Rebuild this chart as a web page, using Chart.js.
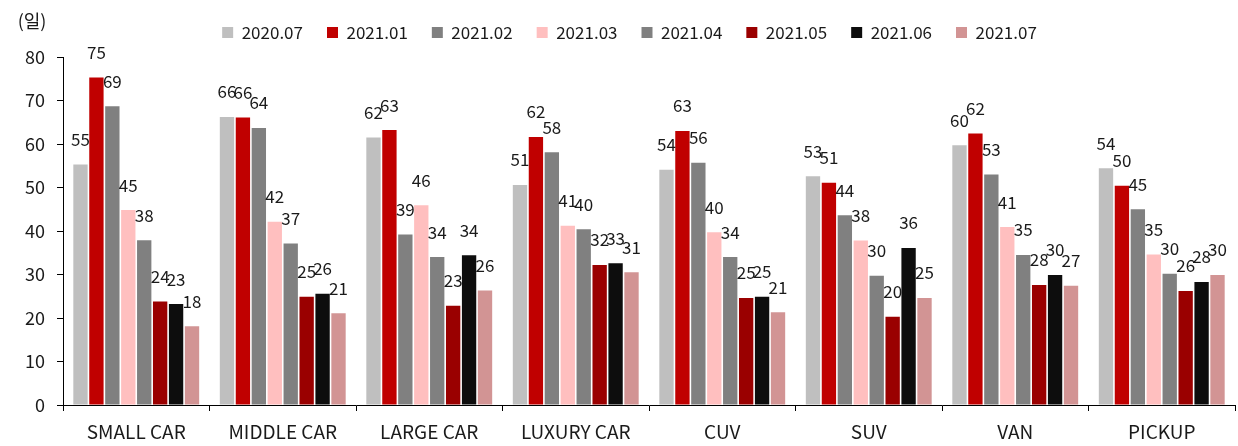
<!DOCTYPE html>
<html>
<head>
<meta charset="utf-8">
<script src="https://cdn.jsdelivr.net/npm/chart.js@4/dist/chart.umd.min.js"></script>
<style>
  html, body { margin: 0; padding: 0; background: #fff; }
  #wrap { width: 1238px; height: 446px; }
</style>
</head>
<body>
<div id="wrap"><canvas id="c" width="1238" height="446"></canvas></div>
<script>
const categories = ['SMALL CAR', 'MIDDLE CAR', 'LARGE CAR', 'LUXURY CAR', 'CUV', 'SUV', 'VAN', 'PICKUP'];
const seriesNames = ['2020.07', '2021.01', '2021.02', '2021.03', '2021.04', '2021.05', '2021.06', '2021.07'];
const s2020_07 = [55.3, 66.2, 61.5, 50.6, 54.1, 52.6, 59.7, 54.4];
const s2021_01 = [75.3, 66.1, 63.2, 61.6, 63.0, 51.1, 62.4, 50.4];
const s2021_02 = [68.7, 63.7, 39.2, 58.1, 55.7, 43.6, 53.0, 45.0];
const s2021_03 = [44.8, 42.1, 45.9, 41.2, 39.7, 37.8, 40.9, 34.6];
const s2021_04 = [37.9, 37.1, 34.0, 40.4, 34.0, 29.7, 34.5, 30.2];
const s2021_05 = [23.8, 24.9, 22.8, 32.2, 24.6, 20.3, 27.6, 26.2];
const s2021_06 = [23.2, 25.6, 34.4, 32.6, 24.9, 36.1, 29.9, 28.3];
const s2021_07 = [18.1, 21.1, 26.3, 30.5, 21.3, 24.6, 27.4, 29.9];
const yTicks = [0, 10, 20, 30, 40, 50, 60, 70, 80];
const unitLabel = '(일)';

const seriesValues = [s2020_07, s2021_01, s2021_02, s2021_03, s2021_04, s2021_05, s2021_06, s2021_07];
const seriesColors = ['#bfbfbf', '#c00000', '#808080', '#ffbfbf', '#808080', '#9a0000', '#0d0d0d', '#d29494'];

const FONT = "'Noto Sans CJK KR', 'Open Sans', sans-serif";
const FS = 17;
const TXT = '#1a1a1a';

const dataLabels = {
  id: 'dataLabels',
  afterDatasetsDraw(chart) {
    const ctx = chart.ctx;
    ctx.save();
    ctx.font = FS + 'px ' + FONT;
    ctx.fillStyle = TXT;
    ctx.textAlign = 'center';
    ctx.textBaseline = 'middle';
    chart.data.datasets.forEach((ds, i) => {
      const meta = chart.getDatasetMeta(i);
      meta.data.forEach((el, j) => {
        ctx.fillText(String(Math.round(ds.data[j])), el.x, el.y - 25);
      });
    });
    ctx.restore();
  }
};

const unitPlugin = {
  id: 'unitPlugin',
  afterDraw(chart) {
    const ctx = chart.ctx;
    ctx.save();
    ctx.font = '18px ' + FONT;
    ctx.fillStyle = TXT;
    ctx.textAlign = 'center';
    ctx.textBaseline = 'middle';
    ctx.fillText(unitLabel, chart.chartArea.left - 31, 21);
    ctx.restore();
  }
};

const legendHeight = {
  id: 'legendHeight',
  beforeUpdate(chart) {
    if (chart.legend && !chart.legend._patched) {
      const orig = chart.legend.fit;
      chart.legend.fit = function () { orig.call(this); this.height = 57; };
      chart.legend._patched = true;
    }
  }
};

new Chart(document.getElementById('c'), {
  type: 'bar',
  data: {
    labels: categories,
    datasets: seriesNames.map((n, i) => ({
      label: n,
      data: seriesValues[i],
      backgroundColor: seriesColors[i],
      borderWidth: 0,
      categoryPercentage: 0.87,
      barPercentage: 0.9
    }))
  },
  options: {
    responsive: false,
    animation: false,
    devicePixelRatio: 1,
    layout: { padding: { left: 24, right: 3, top: 0, bottom: 0 } },
    plugins: {
      legend: {
        position: 'top',
        labels: {
          font: { family: FONT, size: FS },
          color: TXT,
          boxWidth: 11,
          boxHeight: 11,
          padding: 24
        }
      },
      tooltip: { enabled: false }
    },
    scales: {
      x: {
        afterFit(s) { s.height = 41; },
        grid: { display: true, drawOnChartArea: false, drawTicks: true, tickLength: 6, color: '#000', offset: true },
        border: { display: true, color: '#000', width: 1 },
        ticks: { font: { family: FONT, size: 19 }, color: TXT, padding: 9, maxRotation: 0 }
      },
      y: {
        min: 0,
        max: 80,
        afterFit(s) { s.width = 39; },
        afterBuildTicks(s) { s.ticks = yTicks.map(v => ({ value: v })); },
        grid: { display: true, drawOnChartArea: false, drawTicks: true, tickLength: 6, color: '#000' },
        border: { display: true, color: '#000', width: 1 },
        ticks: { font: { family: FONT, size: 18 }, color: TXT, padding: 12 }
      }
    }
  },
  plugins: [dataLabels, unitPlugin, legendHeight]
});
</script>
</body>
</html>
